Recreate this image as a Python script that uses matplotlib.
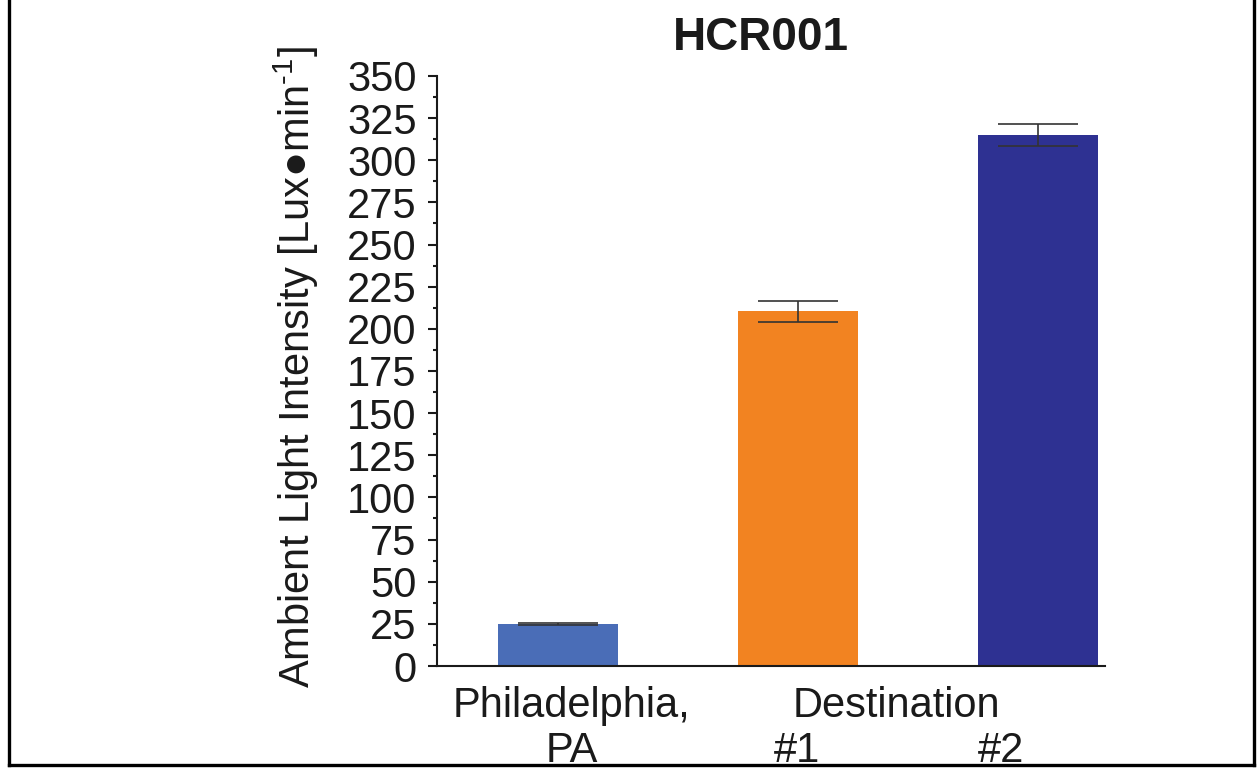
import numpy as np
import matplotlib
matplotlib.use('Agg')
import matplotlib.pyplot as plt
import matplotlib.transforms as mtransforms
from matplotlib.lines import Line2D
from matplotlib.ticker import MultipleLocator

plt.rcParams['font.family'] = ['Liberation Sans', 'DejaVu Sans']
plt.rcParams['mathtext.fontset'] = 'custom'
plt.rcParams['mathtext.rm'] = 'Liberation Sans'
plt.rcParams['mathtext.it'] = 'Liberation Sans'

# ambient light per site
sites = ['Philadelphia, PA', 'Destination #1', 'Destination #2']
light = [25.0, 210.5, 315.0]
light_err = [0.4, 6.2, 6.8]
bar_colors = ['#4a6db7', '#f28321', '#2e3192']
yticks = np.arange(0, 351, 25)

fig = plt.figure(figsize=(12.59, 7.72), dpi=100)
ax = fig.add_axes([0.347, 0.1373, 0.5306, 0.7643])

x = np.arange(len(sites))
ax.bar(x, light, width=0.5, color=bar_colors, zorder=2)
ax.errorbar(x, light, yerr=light_err, fmt='none', ecolor='#333333',
            elinewidth=1.2, capsize=28.8, capthick=1.2, zorder=3)

ax.set_xlim(-0.504, 2.28)
ax.set_ylim(0, 350)
ax.set_yticks(yticks)
ax.yaxis.set_minor_locator(MultipleLocator(12.5))
ax.set_xticks([])
ax.tick_params(axis='y', which='major', labelsize=30, length=6.5, width=1.5,
               pad=8, direction='out', colors='#1a1a1a')
ax.tick_params(axis='y', which='minor', length=3, width=1.5, colors='#1a1a1a')
for s in ['top', 'right']:
    ax.spines[s].set_visible(False)
for s in ['left', 'bottom']:
    ax.spines[s].set_linewidth(1.5)
    ax.spines[s].set_color('#1a1a1a')

ax.set_ylabel('Ambient Light Intensity [Lux\u25cfmin$^{\u20101}$]', fontsize=30,
              color='#1a1a1a')
ax.yaxis.set_label_coords(-0.173, 0.507)

fig.text(0.604, 0.935, 'HCR001', fontsize=33, fontweight='bold',
         ha='center', va='baseline', color='#1a1a1a')

# split category labels under the bars
blend = mtransforms.blended_transform_factory(ax.transData, fig.transFigure)
row1, row2 = 0.0712, 0.013
for xpos, ypos, txt in [(0.058, row1, 'Philadelphia,'), (0.058, row2, 'PA'),
                        (1.4125, row1, 'Destination'),
                        (0.996, row2, '#1'), (1.846, row2, '#2')]:
    ax.text(xpos, ypos, txt, transform=blend, ha='center', va='baseline',
            fontsize=30, color='#1a1a1a', clip_on=False)

# open frame around the panel
for xs, ys in [([0.0068, 0.0068], [1.0, 0.0088]),
               ([0.0068, 0.9963], [0.0088, 0.0088]),
               ([0.9963, 0.9963], [0.0088, 1.0])]:
    fig.add_artist(Line2D(xs, ys, transform=fig.transFigure, color='black',
                          linewidth=2.4, solid_capstyle='projecting', zorder=10))

fig.savefig('out.png', dpi=100)
